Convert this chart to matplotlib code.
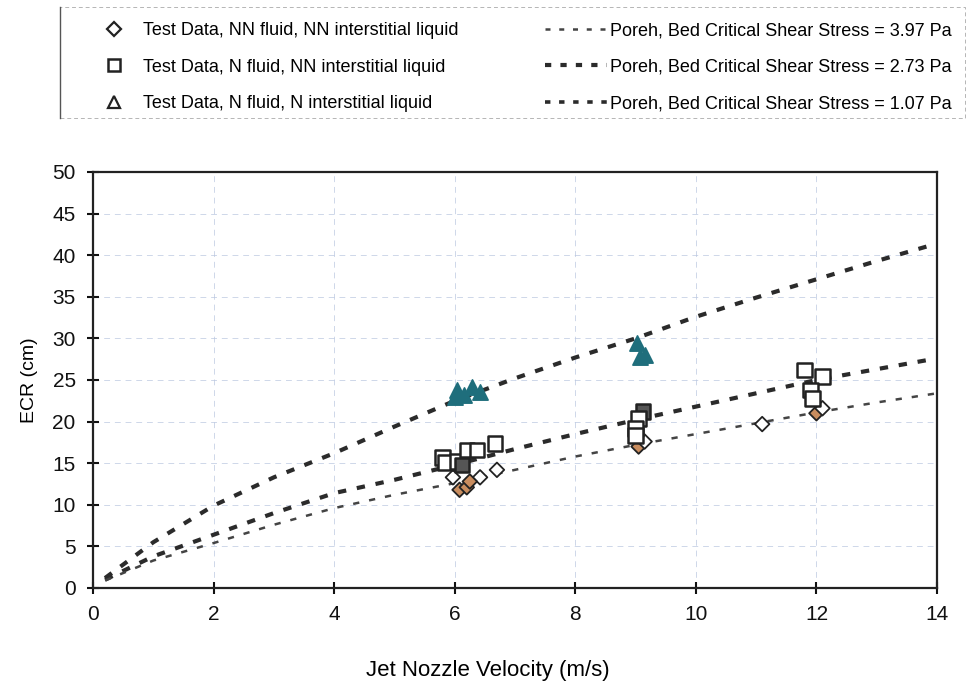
import matplotlib
matplotlib.use("Agg")
import matplotlib.pyplot as plt
from matplotlib.lines import Line2D
from matplotlib.patches import Rectangle

plt.rcParams['font.family'] = ['Liberation Sans', 'DejaVu Sans']

# Poreh model curves
poreh_v = [0.2, 1, 2, 3, 4, 5, 6, 7, 8, 9, 10, 11, 12, 13, 14]
poreh_107 = [1.2, 5.5, 9.9, 13.3, 16.2, 19.4, 22.5, 25.2, 27.7, 30.0, 32.6, 34.9, 37.1, 39.3, 41.4]
poreh_273 = [1.0, 3.8, 6.4, 9.0, 11.4, 13.0, 14.8, 16.7, 18.5, 20.2, 21.8, 23.4, 25.0, 26.3, 27.6]
poreh_397 = [0.9, 3.3, 5.4, 7.6, 9.6, 11.2, 12.6, 14.2, 15.8, 17.2, 18.5, 19.8, 21.1, 22.3, 23.4]

# Test data: NN fluid, NN interstitial liquid (diamonds)
nn_nn_v = [5.97, 6.08, 6.2, 6.42, 6.7, 6.25, 9.05, 9.15, 11.1, 12.0, 12.1]
nn_nn_ecr = [13.3, 11.8, 12.1, 13.3, 14.2, 12.8, 17.0, 17.6, 19.7, 21.0, 21.6]
nn_nn_fill = ['white', '#c98d5f', '#c98d5f', 'white', 'white', '#c98d5f',
              '#c98d5f', 'white', 'white', '#c98d5f', 'white']

# Test data: N fluid, NN interstitial liquid (squares)
n_nn_v = [5.8, 5.85, 6.05, 6.2, 6.37, 6.67, 6.12, 9.12, 9.05, 9.0, 9.0, 11.8, 12.1, 11.9, 11.93]
n_nn_ecr = [15.7, 15.1, 15.2, 16.6, 16.6, 17.4, 14.8, 21.2, 20.4, 19.2, 18.3, 26.2, 25.4, 23.8, 22.8]
n_nn_fill = ['white', 'white', 'white', 'white', 'white', 'white', '#555555',
             '#555555', 'white', 'white', 'white', 'white', 'white', 'white', 'white']

# Test data: N fluid, N interstitial liquid (triangles)
n_n_v = [6.0, 6.04, 6.15, 6.28, 6.42, 9.02, 9.07, 9.15]
n_n_ecr = [23.0, 23.8, 23.2, 24.2, 23.6, 29.4, 27.8, 28.0]

x_ticks = [0, 2, 4, 6, 8, 10, 12, 14]
y_ticks = [0, 5, 10, 15, 20, 25, 30, 35, 40, 45, 50]

label_nn_nn = "Test Data, NN fluid, NN interstitial liquid"
label_n_nn = "Test Data, N fluid, NN interstitial liquid"
label_n_n = "Test Data, N fluid, N interstitial liquid"
label_397 = "Poreh, Bed Critical Shear Stress = 3.97 Pa"
label_273 = "Poreh, Bed Critical Shear Stress = 2.73 Pa"
label_107 = "Poreh, Bed Critical Shear Stress = 1.07 Pa"

line_col = '#2b2b2b'
teal = '#1f6e7c'

fig = plt.figure(figsize=(9.72, 6.89), dpi=100)
ax = fig.add_axes([0.0957, 0.1466, 0.8683, 0.6038])

ax.plot(poreh_v, poreh_107, color=line_col, lw=3.0, linestyle=(0, (2.0, 2.6)), zorder=2)
ax.plot(poreh_v, poreh_273, color=line_col, lw=3.0, linestyle=(0, (2.0, 2.6)), zorder=2)
ax.plot(poreh_v, poreh_397, color='#444444', lw=1.8, linestyle=(0, (2.5, 4.0)), zorder=2)

ax.scatter(nn_nn_v, nn_nn_ecr, marker='D', s=55, facecolors=nn_nn_fill,
           edgecolors='#222222', linewidths=1.3, zorder=3)
ax.scatter(n_nn_v, n_nn_ecr, marker='s', s=110, facecolors=n_nn_fill,
           edgecolors='#222222', linewidths=1.8, zorder=3)
ax.scatter(n_n_v, n_n_ecr, marker='^', s=120, facecolors=teal,
           edgecolors=teal, linewidths=1.2, zorder=3)

ax.set_xlim(0, 14)
ax.set_ylim(0, 50)
ax.set_xticks(x_ticks)
ax.set_yticks(y_ticks)
ax.tick_params(direction='inout', length=9, width=1.5, labelsize=15, pad=8, colors='#111111')
for s in ax.spines.values():
    s.set_linewidth(1.6)
    s.set_color('#222222')
ax.grid(True, color='#b9c6e0', linestyle=(0, (6, 5)), linewidth=0.7, alpha=0.7)
ax.set_axisbelow(True)

ax.set_xlabel("Jet Nozzle Velocity (m/s)", fontsize=16)
ax.xaxis.set_label_coords(0.468, -0.172)
ax.set_ylabel("ECR (cm)", fontsize=14, labelpad=10)

# legend, two columns in a faint box above the plot
mk_handles = [
    Line2D([], [], linestyle='none', marker='D', markersize=7, markerfacecolor='white',
           markeredgecolor='#222222', markeredgewidth=1.6),
    Line2D([], [], linestyle='none', marker='s', markersize=8, markerfacecolor='white',
           markeredgecolor='#222222', markeredgewidth=1.8),
    Line2D([], [], linestyle='none', marker='^', markersize=8, markerfacecolor='white',
           markeredgecolor='#222222', markeredgewidth=1.6),
]
ln_handles = [
    Line2D([], [], color='#444444', lw=1.8, linestyle=(0, (2.0, 3.5))),
    Line2D([], [], color=line_col, lw=3.0, linestyle=(0, (1.5, 2.2))),
    Line2D([], [], color=line_col, lw=2.6, linestyle=(0, (1.5, 2.4))),
]
leg_kw = dict(loc='upper left', frameon=False, fontsize=13, borderpad=0,
              borderaxespad=0, labelspacing=1.09)
fig.legend(mk_handles, [label_nn_nn, label_n_nn, label_n_n],
           bbox_to_anchor=(0.0988, 0.968), handlelength=2.0, handletextpad=0.6, **leg_kw)
fig.legend(ln_handles, [label_397, label_273, label_107],
           bbox_to_anchor=(0.5607, 0.968), handlelength=3.45, handletextpad=0.15, **leg_kw)
fig.add_artist(Rectangle((0.0617, 0.8287), 0.931, 0.161, transform=fig.transFigure,
                         fill=False, edgecolor='#b5b5b5', linewidth=0.7,
                         linestyle=(0, (4, 3))))
fig.add_artist(Line2D([0.0617, 0.0617], [0.8287, 0.9897], transform=fig.transFigure,
                      color='#555555', lw=1.0))

fig.savefig("out.png", dpi=100)
